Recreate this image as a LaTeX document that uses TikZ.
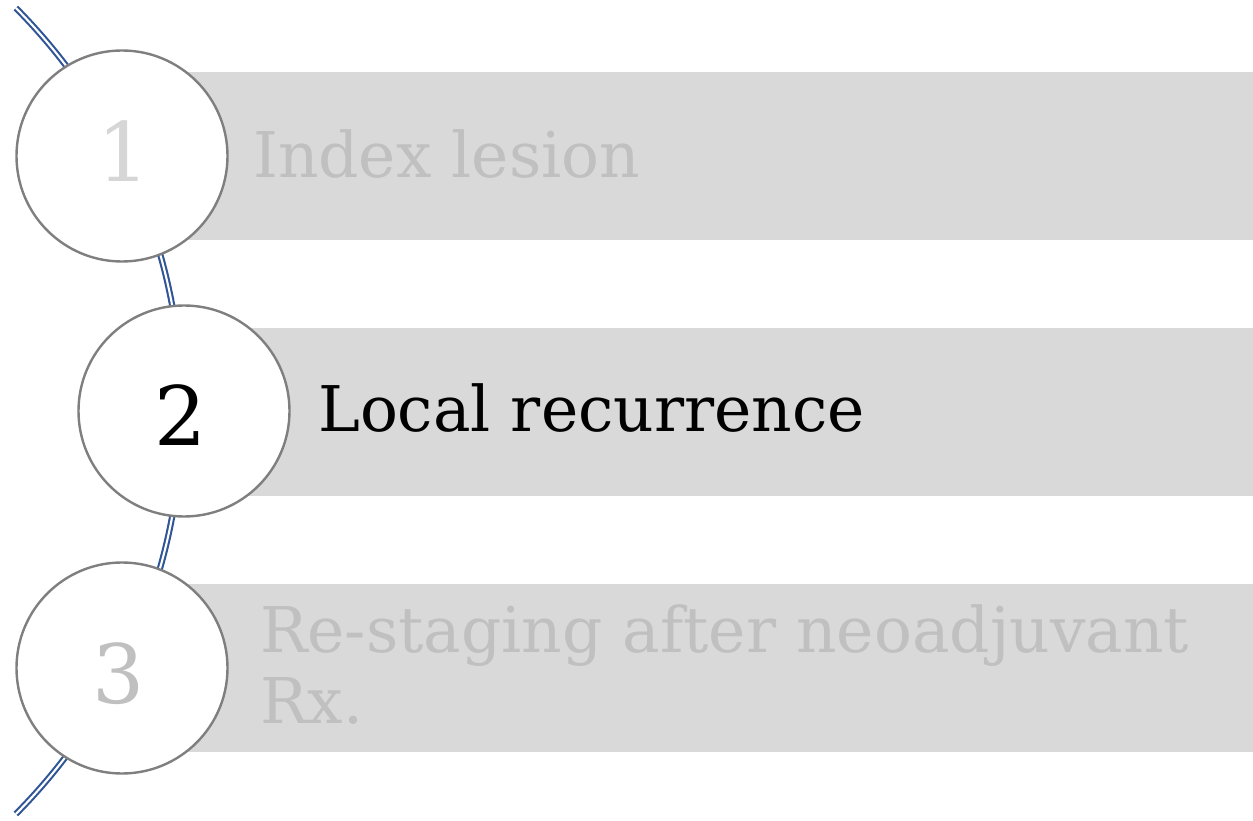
\documentclass[tikz,border=0pt]{standalone}
\usepackage{fontspec}
\setmainfont{DejaVu Serif}
\definecolor{barfill}{HTML}{D9D9D9}
\definecolor{ringline}{HTML}{7F7F7F}
\definecolor{fadedtext}{HTML}{C0C0C0}
\definecolor{fadednum}{HTML}{D6D6D6}
\definecolor{trackblue}{HTML}{2F5597}
\begin{document}
\begin{tikzpicture}[x=1pt,y=1pt,
  bar/.style={fill=barfill},
  ring/.style={circle,draw=ringline,line width=2.4pt,fill=white,minimum size=211pt,inner sep=0pt},
  numlabel/.style={anchor=base,font=\fontsize{82}{90}\selectfont},
  steplabel/.style={anchor=base west,font=\fontsize{63}{71}\selectfont,align=left,inner sep=0pt},
  track/.style={draw=trackblue,line width=2.1pt,double=white,double distance=2.1pt}]
\useasboundingbox (0,0) rectangle (1253,820);
\clip (0,0) rectangle (1253,820);
% curved double track linking the three steps
\draw[track] (-390,409) ++(44.8:572) arc[start angle=44.8,end angle=-44.8,radius=572];
% step bars
\fill[bar] (122,580) rectangle (1253,748);
\fill[bar] (184,324) rectangle (1253,492);
\fill[bar] (122,68) rectangle (1253,236);
% step circles
\node[ring] (c1) at (122,664) {};
\node[ring] (c2) at (184,409) {};
\node[ring] (c3) at (122,152) {};
% numbers
\node[numlabel,text=fadednum] (n1) at (124,638) {1};
\node[numlabel,text=black] (n2) at (181,374) {2};
\node[numlabel,text=fadedtext] (n3) at (119,117) {3};
% step texts
\node[steplabel,text=fadedtext] (t1) at (253,642) {Index lesion};
\node[steplabel,text=black] (t2) at (318,388) {Local recurrence};
\node[steplabel,text=fadedtext] (t3a) at (260,168) {Re-staging after neoadjuvant};
\node[steplabel,text=fadedtext] (t3b) at (260,97) {Rx.};
\end{tikzpicture}
\end{document}
